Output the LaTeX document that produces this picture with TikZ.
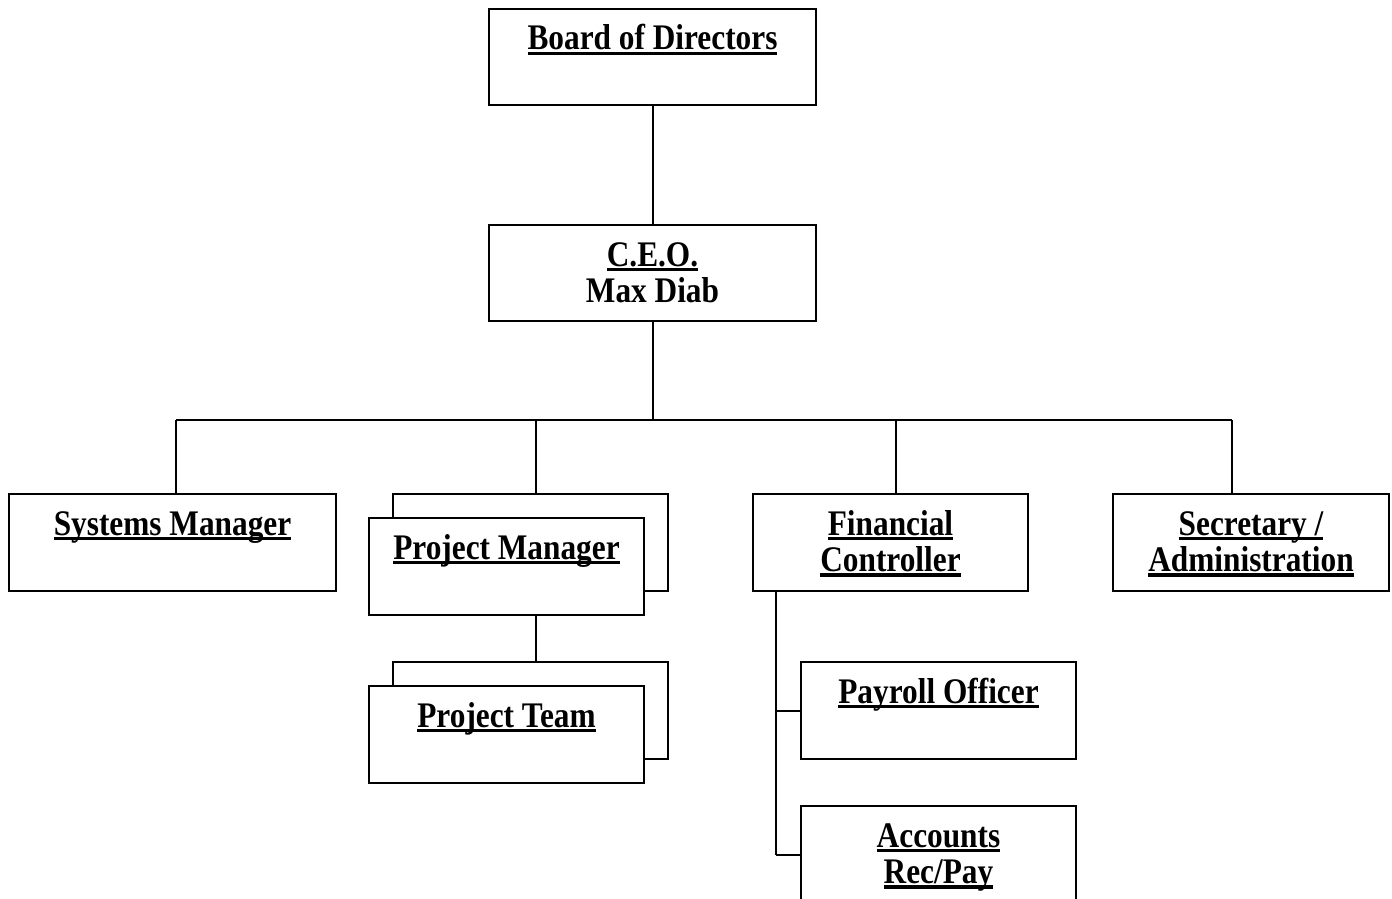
\documentclass[tikz,border=0pt]{standalone}
\usepackage{fontspec}
\setmainfont{Liberation Serif}
\usepackage{graphicx}
\newcommand\myul[1]{\setbox0=\hbox{#1}\rlap{\rule[-5.2pt]{\wd0}{3.6pt}}\box0}
\newcommand\boxtext[1]{\scalebox{0.87}[1]{\fontsize{36}{36.5}\selectfont\bfseries\begin{tabular}[t]{@{}c@{}}#1\end{tabular}}}
\begin{document}
\begin{tikzpicture}[x=1pt,y=-1pt,line width=2pt,
  orgbox/.style args={#1x#2}{draw,fill=white,line width=2pt,inner sep=0pt,anchor=north west,
    minimum width=#1pt,minimum height=#2pt},
  lbl/.style={anchor=base,inner sep=0pt}]
\useasboundingbox (0,0) rectangle (1392,899);
\clip (0,0) rectangle (1392,899);
% boxes
\node[orgbox=327x96] (board) at (488,8) {};
\node[orgbox=327x96] (ceo) at (488,224) {};
\node[orgbox=327x97] (sys) at (8,493) {};
\node[orgbox=275x97] (pmB) at (392,493) {};
\node[orgbox=275x97] (pm) at (368,517) {};
\node[orgbox=275x97] (ptB) at (392,661) {};
\node[orgbox=275x97] (pt) at (368,685) {};
\node[orgbox=275x97] (fc) at (752,493) {};
\node[orgbox=276x97] (sec) at (1112,493) {};
\node[orgbox=275x97] (pay) at (800,661) {};
\node[orgbox=275x97] (acc) at (800,805) {};
% texts
\node[lbl] (boardT) at ([yshift=-42pt]board.north) {\boxtext{\myul{Board of Directors}}};
\node[lbl] (ceoT) at ([yshift=-42pt]ceo.north) {\boxtext{\myul{C.E.O.}\\Max Diab}};
\node[lbl] (sysT) at ([yshift=-42pt]sys.north) {\boxtext{\myul{Systems Manager}}};
\node[lbl] (pmT) at ([yshift=-42pt]pm.north) {\boxtext{\myul{Project Manager}}};
\node[lbl] (ptT) at ([yshift=-42pt]pt.north) {\boxtext{\myul{Project Team}}};
\node[lbl] (fcT) at ([yshift=-42pt]fc.north) {\boxtext{\myul{Financial}\\\myul{Controller}}};
\node[lbl] (secT) at ([yshift=-42pt]sec.north) {\boxtext{\myul{Secretary /}\\\myul{Administration}}};
\node[lbl] (payT) at ([yshift=-42pt]pay.north) {\boxtext{\myul{Payroll Officer}}};
\node[lbl] (accT) at ([yshift=-42pt]acc.north) {\boxtext{\myul{Accounts}\\\myul{Rec/Pay}}};
% connectors
\coordinate (busL) at (176,420);
\coordinate (busR) at (1232,420);
\coordinate (pmDrop) at (536,420);
\coordinate (fcDrop) at (896,420);
\coordinate (fcStem) at (776,0);
\draw (board.south) -- (ceo.north);
\draw (ceo.south) -- (ceo.south |- busL);
\draw (busL) -- (busR);
\draw (busL) -- (busL |- sys.north);
\draw (pmDrop) -- (pmDrop |- pmB.north);
\draw (fcDrop) -- (fcDrop |- fc.north);
\draw (busR) -- (busR |- sec.north);
\draw (pmDrop |- pm.south) -- (pmDrop |- ptB.north);
\draw (fcStem |- fc.south) -- (fcStem |- acc.west);
\draw (fcStem |- pay.west) -- (pay.west);
\draw (fcStem |- acc.west) -- (acc.west);
\end{tikzpicture}
\end{document}
